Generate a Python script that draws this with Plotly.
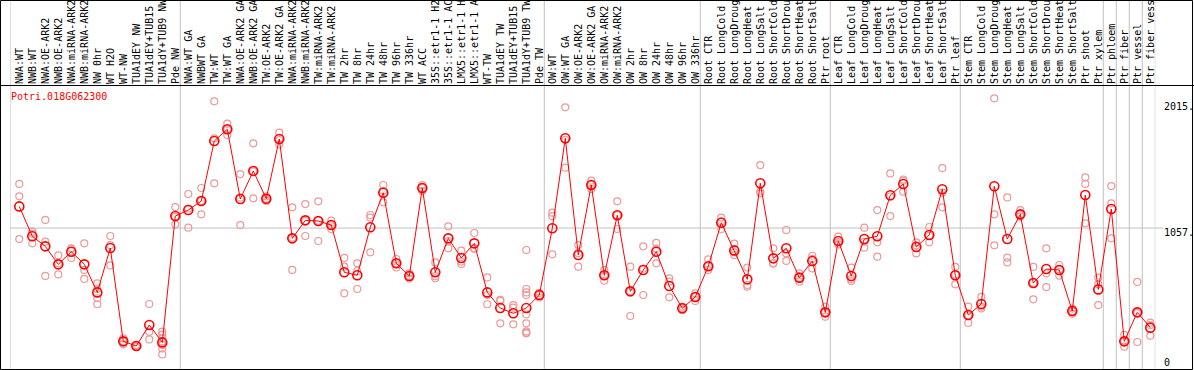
import plotly.graph_objects as go

W, H = 1194, 370

title_text = "Potri.018G062300"

labels_g1 = ["NWA:WT", "NWB:WT", "NWA:OE-ARK2", "NWB:OE-ARK2", "NWA:miRNA-ARK2",
             "NWB:miRNA-ARK2", "NW 0hr", "WT H2O", "WT-NW", "TUA1dEY NW",
             "TUA1dEY+TUB15", "TUA1dY+TUB9 NW", "Pde NW"]
labels_g2 = ["NWA:WT GA", "NWBWT GA", "TW:WT", "TW:WT GA", "NWA:OE-ARK2 GA",
             "NWB:OE-ARK2 GA", "TW:OE-ARK2", "TW:OE-ARK2 GA", "NWA:miRNA-ARK2",
             "NWB:miRNA-ARK2", "TW:miRNA-ARK2", "TW:miRNA-ARK2", "TW 2hr", "TW 8hr",
             "TW 24hr", "TW 48hr", "TW 96hr", "TW 336hr", "WT ACC", "35S::etr1-1 H2",
             "35S::etr1-1 AC", "LMX5::etr1-1 H", "LMX5::etr1-1 A", "WT-TW",
             "TUA1dEY TW", "TUA1dEY+TUB15", "TUA1dY+TUB9 TW", "Pde TW"]
labels_g3 = ["OW:WT", "OW:WT GA", "OW:OE-ARK2", "OW:OE-ARK2 GA", "OW:miRNA-ARK2",
             "OW:miRNA-ARK2", "OW 2hr", "OW 8hr", "OW 24hr", "OW 48hr", "OW 96hr",
             "OW 336hr"]
labels_g4 = ["Root CTR", "Root LongCold", "Root LongDroug", "Root LongHeat",
             "Root LongSalt", "Root ShortCold", "Root ShortDrou", "Root ShortHeat",
             "Root ShortSalt", "Ptr root"]
labels_g5 = ["Leaf CTR", "Leaf LongCold", "Leaf LongDroug", "Leaf LongHeat",
             "Leaf LongSalt", "Leaf ShortCold", "Leaf ShortDrou", "Leaf ShortHeat",
             "Leaf ShortSalt", "Ptr leaf"]
labels_g6 = ["Stem CTR", "Stem LongCold", "Stem LongDroug", "Stem LongHeat",
             "Stem LongSalt", "Stem ShortCold", "Stem ShortDrou", "Stem ShortHeat",
             "Stem ShortSalt", "Ptr shoot", "Ptr xylem"]
labels_g7 = ["Ptr phloem", "Ptr fiber", "Ptr vessel", "Ptr fiber vess"]

means_g1 = [1223, 994, 917, 779, 876, 779, 564, 904, 189, 153, 314, 181, 1149]
means_g2 = [1195, 1264, 1724, 1814, 1280, 1494, 1282, 1739, 978, 1116, 1111, 1080,
            718, 695, 1063, 1328, 787, 690, 1364, 718, 978, 828, 940, 564, 444,
            404, 444, 544]
means_g3 = [1055, 1745, 851, 1387, 695, 1155, 572, 736, 876, 613, 442, 529]
means_g4 = [764, 1098, 886, 664, 1400, 825, 902, 677, 805, 411]
means_g5 = [958, 690, 973, 994, 1308, 1395, 912, 1004, 1354, 695]
means_g6 = [391, 475, 1377, 973, 1162, 636, 743, 736, 421, 1310, 587]
means_g7 = [1203, 189, 411, 294]

reps_g1 = [[1395, 1300, 973], [1029, 1013, 940], [1119, 953, 690], [848, 787, 702],
           [902, 898, 828], [940, 736, 667], [633, 590, 519, 473], [996, 927, 771],
           [212, 189, 166], [160, 153, 146], [475, 263, 204],
           [263, 240, 212, 186, 161, 135, 89], [1218, 1143, 1086]]
reps_g2 = [[1318, 1207, 1060], [1364, 1266, 1162], [2028, 1745, 1400],
           [1857, 1814, 1770], [1471, 1290, 1080], [1706, 1491, 1285],
           [1300, 1282, 1265], [1788, 1730, 1699], [1216, 982, 736],
           [1241, 1111, 996], [1262, 1113, 958], [1114, 1080, 1050],
           [828, 761, 557], [787, 728, 590], [1157, 1137, 871], [1387, 1343, 1254],
           [820, 787, 755], [710, 690, 670], [1387, 1364, 1341], [794, 688, 672],
           [1070, 958, 902], [884, 800, 782], [1019, 902, 899], [679, 544, 473],
           [506, 499, 327], [467, 447, 319],
           [889, 590, 564, 544, 396, 327, 265, 255, 250], [560, 544, 525]]
reps_g3 = [[1175, 1149, 856], [1982, 1733, 1520], [927, 865, 761], [1420, 1387, 1356],
           [736, 695, 654], [1262, 1155, 1050], [761, 572, 383], [917, 746, 544],
           [943, 900, 787], [672, 646, 526], [455, 442, 429], [557, 529, 498]]
reps_g4 = [[817, 764, 736], [1137, 1108, 1050], [937, 871, 850], [754, 621, 608],
           [1540, 1337, 1323], [902, 786, 787], [1042, 863, 805], [710, 677, 646],
           [845, 822, 748], [455, 411, 378]]
reps_g5 = [[991, 950, 932], [754, 665, 651], [1060, 952, 907], [1195, 948, 838],
           [1476, 1299, 1149], [1420, 1429, 1336], [948, 925, 863], [1065, 999, 948],
           [1517, 1329, 1216], [759, 700, 626]]
reps_g6 = [[455, 388, 330], [529, 455, 441], [2051, 1162, 925], [1292, 830, 794],
           [1195, 1162, 1144], [759, 638, 511], [902, 710, 605], [774, 740, 692],
           [440, 421, 400], [1446, 1395, 1093], [677, 626, 467]]
reps_g7 = [[1379, 1246, 978], [238, 189, 148], [644, 405, 184], [332, 314, 232]]

y_tick_vals = [0, 1057, 2015]
y_tick_text = ["0", "1057.", "2015."]

groups_labels = [labels_g1, labels_g2, labels_g3, labels_g4, labels_g5, labels_g6, labels_g7]
groups_means = [means_g1, means_g2, means_g3, means_g4, means_g5, means_g6, means_g7]
groups_reps = [reps_g1, reps_g2, reps_g3, reps_g4, reps_g5, reps_g6, reps_g7]

labels = [l for g in groups_labels for l in g]
means = [m for g in groups_means for m in g]
reps = [r for g in groups_reps for r in g]
xs = list(range(len(labels)))

rep_x, rep_y = [], []
for i, rr in enumerate(reps):
    for v in rr:
        rep_x.append(i)
        rep_y.append(v)

# group boundaries (last index of each tissue group / single sample)
bounds = []
acc = -1
for g in groups_labels[:-1]:
    acc += len(g)
    bounds.append(acc)
bounds += [84, 85, 86, 87]

fig = go.Figure()
fig.add_trace(go.Scatter(
    x=rep_x, y=rep_y, mode="markers",
    marker=dict(symbol="circle-open", size=7, color="#EC9A9A", line=dict(width=1.2)),
    hoverinfo="y", showlegend=False, cliponaxis=False))
fig.add_trace(go.Scatter(
    x=xs, y=means, mode="lines+markers",
    line=dict(color="#FF0000", width=1),
    marker=dict(symbol="circle-open", size=9, color="#FF0000", line=dict(width=1.6)),
    showlegend=False, cliponaxis=False))

XL, XR = 10 / W, 1155.3 / W
X0, X1 = -0.715, 87.385
shapes = []
# vertical separators (full height)
for b in [X0 + 0.0] + [b + 5 / 13 for b in bounds]:
    shapes.append(dict(type="line", xref="x", yref="paper", x0=b, x1=b, y0=0, y1=1,
                       line=dict(color="#C0C0C0", width=1), layer="below"))
# horizontal grid line at the middle tick
shapes.append(dict(type="line", xref="paper", yref="y", x0=XL, x1=1163 / W,
                   y0=y_tick_vals[1], y1=y_tick_vals[1],
                   line=dict(color="#C0C0C0", width=1), layer="below"))
# outer frame and header divider
shapes.append(dict(type="rect", xref="paper", yref="paper",
                   x0=0.5 / W, x1=1192.5 / W, y0=1 - 369.5 / H, y1=1 - 0.5 / H,
                   line=dict(color="black", width=1)))
shapes.append(dict(type="line", xref="paper", yref="paper",
                   x0=0, x1=1, y0=1 - 85.5 / H, y1=1 - 85.5 / H,
                   line=dict(color="black", width=1)))

font = "DejaVu Sans Mono"
annotations = [dict(text=title_text, xref="paper", yref="paper", x=9 / W, y=1 - 96 / H,
                    xanchor="left", yanchor="middle", showarrow=False,
                    font=dict(family=font, size=10, color="#FF0000"))]
y_shifts = [-3, 2, 3]
for v, t, s in zip(y_tick_vals, y_tick_text, y_shifts):
    annotations.append(dict(text=t, xref="paper", yref="y", x=1163 / W, y=v,
                            xanchor="left", yanchor="bottom" if v == 0 else "top",
                            yshift=s, showarrow=False, borderpad=0,
                            font=dict(family=font, size=10, color="black")))

fig.update_layout(
    template="none",
    width=W, height=H,
    margin=dict(l=0, r=0, t=0, b=0, pad=0),
    paper_bgcolor="white", plot_bgcolor="white",
    showlegend=False,
    xaxis=dict(domain=[XL, XR], range=[X0, X1], side="top",
               tickmode="array", tickvals=xs, ticktext=labels, tickangle=-90,
               tickfont=dict(family=font, size=10, color="black"),
               showgrid=False, zeroline=False, showline=False, ticks="",
               automargin=False, ticklabelstandoff=0),
    yaxis=dict(domain=[1 / H, 285 / H], range=[-23, 2153.3],
               showgrid=False, zeroline=False, showline=False, ticks="",
               showticklabels=False, automargin=False),
    shapes=shapes, annotations=annotations,
)

fig.write_html("out.html", config={"displayModeBar": False},
               post_script="document.body.style.margin='0';")
